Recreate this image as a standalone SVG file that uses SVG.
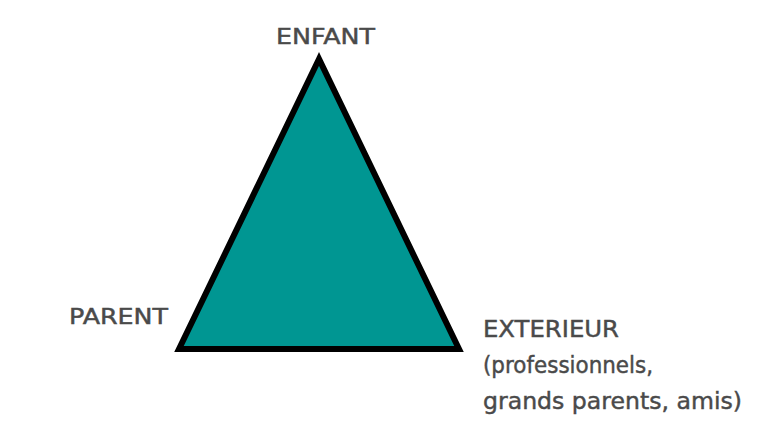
<svg xmlns="http://www.w3.org/2000/svg" width="759" height="437" viewBox="0 0 759 437">
<style>
.lbl{font-family:"DejaVu Sans","Open Sans",sans-serif;fill:#4a4a4a;stroke:#4a4a4a;stroke-width:0.45;}
</style>
<rect width="759" height="437" fill="#ffffff"/>
<g id="triangle">
<polygon points="319,59 179,349 459,349" fill="#009692" stroke="#000000" stroke-width="6" stroke-linejoin="miter"/>
</g>
<g id="connectors"></g>
<g id="enfant"><text class="lbl" x="276" y="44" font-size="20.5" textLength="99" lengthAdjust="spacingAndGlyphs">ENFANT</text></g>
<g id="parent"><text class="lbl" x="69" y="324" font-size="20.5" textLength="99" lengthAdjust="spacingAndGlyphs">PARENT</text></g>
<g id="exterieur">
<text class="lbl" x="483" y="337" font-size="23" textLength="136" lengthAdjust="spacingAndGlyphs">EXTERIEUR</text>
<text class="lbl" x="483" y="373" font-size="23.5" textLength="170" lengthAdjust="spacingAndGlyphs">(professionnels,</text>
<text class="lbl" x="483" y="409" font-size="23.5" textLength="259" lengthAdjust="spacingAndGlyphs">grands parents, amis)</text>
</g>
</svg>
